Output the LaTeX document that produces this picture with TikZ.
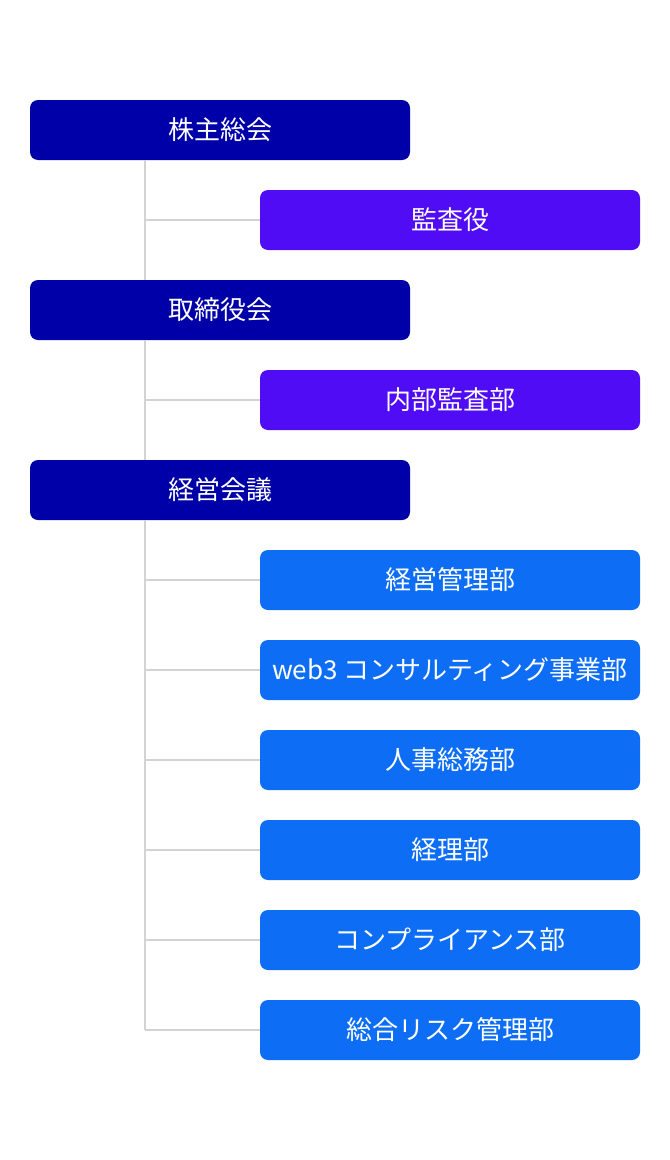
\documentclass[tikz,border=0pt]{standalone}
\usepackage{fontspec}
\setmainfont{Noto Sans CJK JP}
\definecolor{navy}{HTML}{0000A8}
\definecolor{violet}{HTML}{500DF5}
\definecolor{azure}{HTML}{0D6EF5}
\definecolor{wire}{HTML}{D3D3D3}
\tikzset{
  box/.style={rounded corners=6pt,minimum width=285pt,minimum height=45pt,text=white,
    inner sep=0pt,font=\fontsize{19.5}{23}\selectfont},
  head/.style={box,fill=navy},
  audit/.style={box,fill=violet},
  dept/.style={box,fill=azure},
  link/.style={draw=wire,line width=1.4pt}
}
\begin{document}
\begin{tikzpicture}[x=.75pt,y=-.75pt]
\useasboundingbox(0,0)rectangle(670,1160);
\coordinate(trunk)at(145,0);
\node[head](kabu)at(220,130){株主総会};
\node[audit](kansa)at(450,220){監査役};
\node[head](tori)at(220,310){取締役会};
\node[audit](naibu)at(450,400){内部監査部};
\node[head](keiei)at(220,490){経営会議};
\node[dept](kanri)at(450,580){経営管理部};
\node[dept](web)at(450,670){web3 コンサルティング事業部};
\node[dept](jinji)at(450,760){人事総務部};
\node[dept](keiri)at(450,850){経理部};
\node[dept](comp)at(450,940){コンプライアンス部};
\node[dept](risk)at(450,1030){総合リスク管理部};
\draw[link](kabu.south-|trunk)--(tori.north-|trunk);
\draw[link](tori.south-|trunk)--(keiei.north-|trunk);
\draw[link](keiei.south-|trunk)--(risk.west-|trunk);
\foreach\n in{kansa,naibu,kanri,web,jinji,keiri,comp,risk}
  \draw[link](\n.west-|trunk)--(\n.west);
\end{tikzpicture}
\end{document}
